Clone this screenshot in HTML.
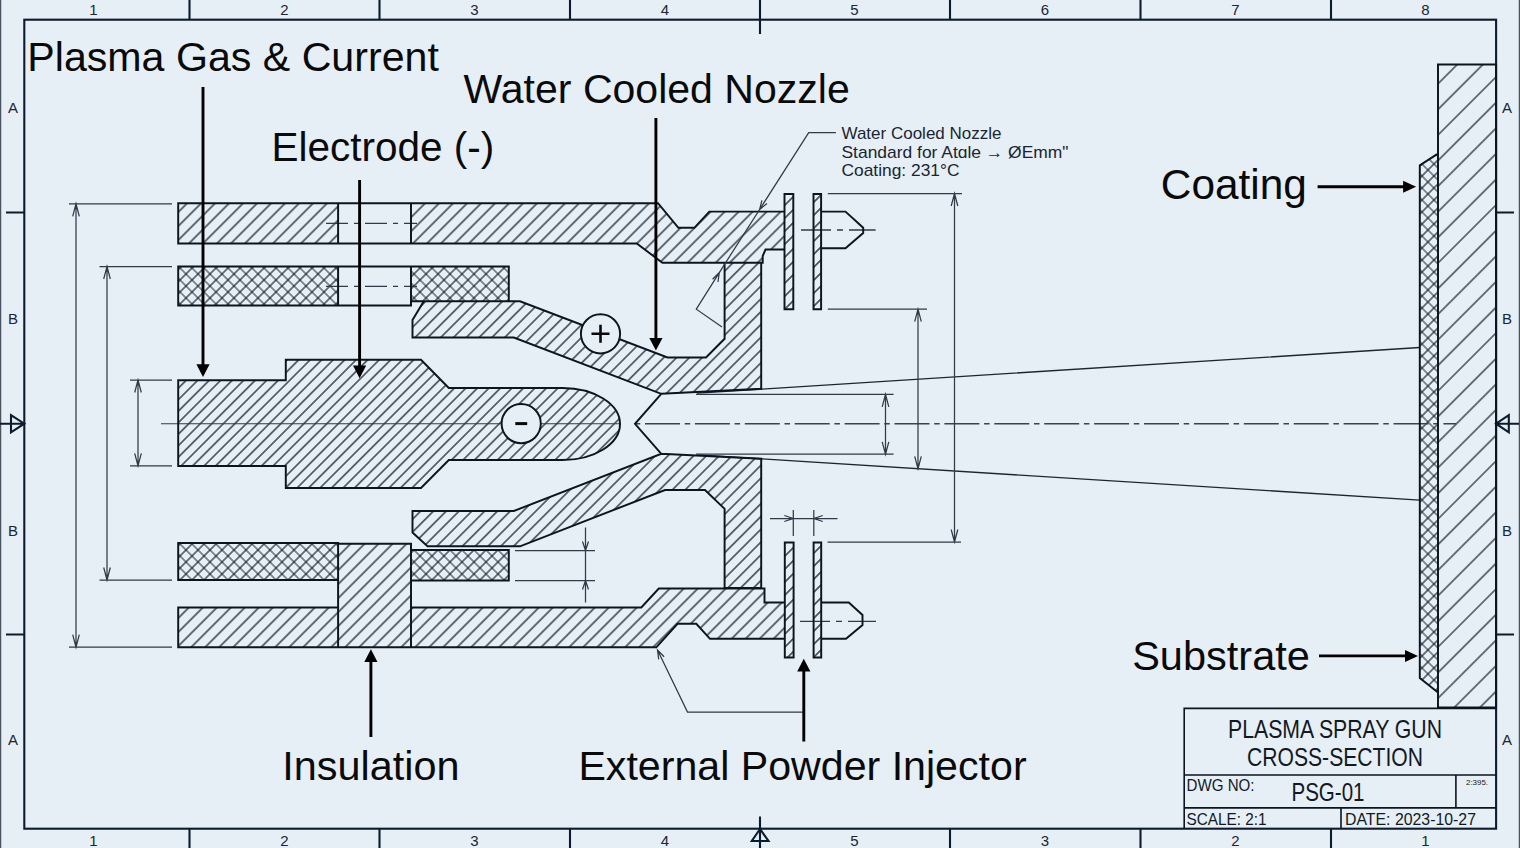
<!DOCTYPE html>
<html><head><meta charset="utf-8">
<style>
html,body{margin:0;padding:0;background:#e6eff6;overflow:hidden;}
svg{display:block;}
text{font-family:"Liberation Sans",sans-serif;}
</style></head>
<body>
<svg width="1520" height="848" viewBox="0 0 1520 848">
<defs><pattern id="h14" patternUnits="userSpaceOnUse" width="9.899" height="40" patternTransform="rotate(45) translate(8.768,0)"><path d="M0 -2V42M9.899 -2V42" stroke="#0d1620" stroke-width="1.2"/></pattern><pattern id="h14b" patternUnits="userSpaceOnUse" width="9.051" height="40" patternTransform="rotate(45) translate(7.212,0)"><path d="M0 -2V42M9.051 -2V42" stroke="#0d1620" stroke-width="1.2"/></pattern><pattern id="h115" patternUnits="userSpaceOnUse" width="8.132" height="40" patternTransform="rotate(45) translate(2.121,0)"><path d="M0 -2V42M8.132 -2V42" stroke="#0d1620" stroke-width="1.2"/></pattern><pattern id="h117" patternUnits="userSpaceOnUse" width="8.273" height="40" patternTransform="rotate(45) translate(3.536,0)"><path d="M0 -2V42M8.273 -2V42" stroke="#0d1620" stroke-width="1.2"/></pattern><pattern id="hf" patternUnits="userSpaceOnUse" width="9.192" height="40" patternTransform="rotate(45) translate(1.414,0)"><path d="M0 -2V42M9.192 -2V42" stroke="#0d1620" stroke-width="1.3"/></pattern><pattern id="x12" patternUnits="userSpaceOnUse" width="8.485" height="8.485" patternTransform="rotate(45) translate(2.828,2.828)"><path d="M0 -1V9.485M-1 0H9.485M8.485 -1V9.485M-1 8.485H9.485" stroke="#0d1620" stroke-width="1.15"/></pattern><pattern id="xc" patternUnits="userSpaceOnUse" width="8.485" height="8.485" patternTransform="rotate(45) translate(1.414,1.414)"><path d="M0 -1V9.485M-1 0H9.485M8.485 -1V9.485M-1 8.485H9.485" stroke="#0d1620" stroke-width="1.15"/></pattern><pattern id="h26" patternUnits="userSpaceOnUse" width="18.102" height="40" patternTransform="rotate(45) translate(8.061,0)"><path d="M0 -2V42M18.102 -2V42" stroke="#0d1620" stroke-width="1.15"/></pattern></defs>
<rect x="0" y="0" width="1520" height="848" fill="#e6eff6"/>
<g stroke="#4a5561" stroke-width="1.3"><line x1="0.6" y1="0" x2="0.6" y2="848"/><line x1="1519.4" y1="0" x2="1519.4" y2="848"/></g>
<g stroke="#0c1c2e" fill="none" stroke-width="2.1"><rect x="24.3" y="19.7" width="1471.8" height="809"/><path d="M189.5 0V19.7M379.5 0V19.7M570 0V19.7M760 0V34M950 0V19.7M1140.5 0V19.7M1331 0V19.7"/><path d="M189.5 828.7V848M379.5 828.7V848M570 828.7V848M760 816.5V848M950 828.7V848M1140.5 828.7V848M1331 828.7V848"/><path d="M6 212.5H24.3M6 634.5H24.3M1496 212.5H1514M1496 634.5H1514"/><path d="M0 423.7H24.3M11 415.2L24.3 423.7L11 432.3Z"/><path d="M1496 423.7H1519M1508.8 415.2L1496 423.7L1508.8 432.3Z"/><path d="M760 829L751.8 841L768.5 841Z"/></g>
<g font-size="15" fill="#1a2633" text-anchor="middle"><text x="93.5" y="14.5">1</text><text x="93.5" y="846">1</text><text x="284.5" y="14.5">2</text><text x="284.5" y="846">2</text><text x="474.5" y="14.5">3</text><text x="474.5" y="846">3</text><text x="665" y="14.5">4</text><text x="665" y="846">4</text><text x="854.5" y="14.5">5</text><text x="854.5" y="846">5</text><text x="1045" y="14.5">6</text><text x="1045" y="846">3</text><text x="1235.5" y="14.5">7</text><text x="1235.5" y="846">2</text><text x="1425.5" y="14.5">8</text><text x="1425.5" y="846">1</text><text x="13" y="112.5">A</text><text x="1507" y="112.5">A</text><text x="13" y="323.5">B</text><text x="1507" y="323.5">B</text><text x="13" y="535.5">B</text><text x="1507" y="535.5">B</text><text x="13" y="744.5">A</text><text x="1507" y="744.5">A</text></g>
<path d="M178.20 203.20L338.10 203.20L338.10 243.50L178.20 243.50Z" fill="url(#h14)"/>
<path d="M411.00 203.20L658.00 203.20L678.40 227.80L694.30 227.80L709.30 211.60L784.50 211.60L784.50 249.50L765.50 249.50L762.70 256.00L762.70 262.80L662.40 262.80L636.80 243.50L411.00 243.50Z" fill="url(#h14)"/>
<path d="M178.20 266.50L338.10 266.50L338.10 305.50L178.20 305.50Z" fill="url(#x12)"/>
<path d="M411.00 266.50L508.80 266.50L508.80 301.30L411.00 301.30Z" fill="url(#x12)"/>
<path d="M412.50 320.00L423.80 301.30L520.00 301.30L667.50 357.50L706.00 357.50L724.60 338.80L724.60 262.80L761.20 262.80L761.20 388.80L661.30 393.80L513.80 337.50L412.50 337.50Z" fill="url(#h14b)"/>
<path d="M724.6 262.8H761.2V388.8L724.6 390.6Z" fill="#e6eff6"/><path d="M724.6 262.8H761.2V388.8L724.6 390.6Z" fill="url(#h14b)"/>
<path d="M412.50 532.50L427.50 546.30L520.00 546.30L665.00 490.00L705.00 490.00L724.60 508.80L724.60 588.00L761.20 588.00L761.20 458.80L661.30 453.80L513.80 511.00L412.50 511.00Z" fill="url(#h14b)"/>
<path d="M724.6 457L761.2 458.8V588H724.6Z" fill="#e6eff6"/><path d="M724.6 457L761.2 458.8V588H724.6Z" fill="url(#h14b)"/>
<path d="M178.2 380.3H285.8V359.8H421L448.8 388H562.5A57.5 36 0 0 1 620 424A57.5 36 0 0 1 562.5 460H448.8L421 488H285.8V466H178.2Z" fill="url(#h115)"/>
<path d="M178.20 607.50L338.10 607.50L338.10 543.80L411.00 543.80L411.00 607.50L641.30 607.50L658.80 588.50L764.50 588.50L764.50 602.50L784.80 602.50L784.80 638.80L710.00 638.80L696.30 623.80L677.50 623.80L656.30 647.30L178.20 647.30Z" fill="url(#h14)"/>
<path d="M178.20 543.00L338.10 543.00L338.10 580.00L178.20 580.00Z" fill="url(#x12)"/>
<path d="M411.00 550.00L508.80 550.00L508.80 580.50L411.00 580.50Z" fill="url(#x12)"/>
<path d="M784.50 194.00L793.30 194.00L793.30 309.20L784.50 309.20Z" fill="url(#hf)"/>
<path d="M813.50 194.00L821.10 194.00L821.10 309.20L813.50 309.20Z" fill="url(#hf)"/>
<path d="M784.80 542.50L793.60 542.50L793.60 657.50L784.80 657.50Z" fill="url(#hf)"/>
<path d="M813.60 542.50L821.20 542.50L821.20 657.50L813.60 657.50Z" fill="url(#hf)"/>
<path d="M821.10 211.60L845.50 211.60L863.20 227.80L863.20 233.00L845.50 248.20L821.10 248.20Z" fill="#e6eff6"/>
<path d="M821.20 602.50L848.80 602.50L862.50 615.00L862.50 625.00L846.00 638.80L821.20 638.80Z" fill="#e6eff6"/>
<path d="M1438.00 64.50L1496.10 64.50L1496.10 707.50L1438.00 707.50Z" fill="url(#h26)"/>
<path d="M1419.80 165.40L1438.00 153.60L1438.00 692.40L1419.80 678.00Z" fill="url(#xc)"/>
<path d="M161 423.75H620" stroke="#2f3b47" stroke-width="1.1"/>
<path d="M635 423.75H1456" stroke="#3a434c" stroke-width="1.6" stroke-dasharray="35 4.7 5.5 4.7" stroke-dashoffset="-10"/>
<path d="M326 223.3H417M326 286.3H417" stroke="#2f3b47" stroke-width="1.2" stroke-dasharray="22 6 5 6"/>
<path d="M801 230H875.6M800 621.3H876" stroke="#2f3b47" stroke-width="1.3" stroke-dasharray="30 6 6 6"/>
<path d="M697 393.2L1419.8 347.5M697 454.8L1419.8 500.2" stroke="#1c2630" stroke-width="1.35"/>
<path d="M178.20 203.20L338.10 203.20L338.10 243.50L178.20 243.50ZM338.1 203.2H411M338.1 243.5H411M411.00 203.20L658.00 203.20L678.40 227.80L694.30 227.80L709.30 211.60L784.50 211.60L784.50 249.50L765.50 249.50L762.70 256.00L762.70 262.80L662.40 262.80L636.80 243.50L411.00 243.50ZM178.20 266.50L338.10 266.50L338.10 305.50L178.20 305.50ZM338.1 266.5H411M338.1 305.5H411V266.5M411.00 266.50L508.80 266.50L508.80 301.30L411.00 301.30ZM412.50 320.00L423.80 301.30L520.00 301.30L667.50 357.50L706.00 357.50L724.60 338.80L724.60 262.80L761.20 262.80L761.20 388.80L661.30 393.80L513.80 337.50L412.50 337.50ZM412.50 532.50L427.50 546.30L520.00 546.30L665.00 490.00L705.00 490.00L724.60 508.80L724.60 588.00L761.20 588.00L761.20 458.80L661.30 453.80L513.80 511.00L412.50 511.00ZM661.3 393.8L635 423.8L661.3 453.8M178.2 380.3H285.8V359.8H421L448.8 388H562.5A57.5 36 0 0 1 620 424A57.5 36 0 0 1 562.5 460H448.8L421 488H285.8V466H178.2ZM178.20 607.50L338.10 607.50L338.10 543.80L411.00 543.80L411.00 607.50L641.30 607.50L658.80 588.50L764.50 588.50L764.50 602.50L784.80 602.50L784.80 638.80L710.00 638.80L696.30 623.80L677.50 623.80L656.30 647.30L178.20 647.30ZM338.1 607.5V647.3M411 607.5V647.3M178.20 543.00L338.10 543.00L338.10 580.00L178.20 580.00ZM411.00 550.00L508.80 550.00L508.80 580.50L411.00 580.50ZM784.50 194.00L793.30 194.00L793.30 309.20L784.50 309.20ZM813.50 194.00L821.10 194.00L821.10 309.20L813.50 309.20ZM784.80 542.50L793.60 542.50L793.60 657.50L784.80 657.50ZM813.60 542.50L821.20 542.50L821.20 657.50L813.60 657.50ZM821.10 211.60L845.50 211.60L863.20 227.80L863.20 233.00L845.50 248.20L821.10 248.20ZM821.20 602.50L848.80 602.50L862.50 615.00L862.50 625.00L846.00 638.80L821.20 638.80ZM1438.00 64.50L1496.10 64.50L1496.10 707.50L1438.00 707.50ZM1419.80 165.40L1438.00 153.60L1438.00 692.40L1419.80 678.00Z" fill="none" stroke="#0c151f" stroke-width="1.95" stroke-linejoin="miter"/>
<circle cx="600.5" cy="333.8" r="19.6" fill="#e6eff6" stroke="#0c151f" stroke-width="1.95"/>
<path d="M591.5 333.8H609.5M600.5 324.8V342.8" stroke="#0a0a0a" stroke-width="2.6"/>
<circle cx="521.2" cy="423.6" r="19.6" fill="#e6eff6" stroke="#0c151f" stroke-width="1.95"/>
<path d="M515.3 423.6H527.2" stroke="#0a0a0a" stroke-width="3"/>
<g stroke="#0c151f" stroke-width="1.6" fill="none"><path d="M1184.2 828.2V708.4H1496.1M1184.2 775H1496.1M1184.2 807.9H1496.1M1455.9 775V807.9M1341 807.9V828.2"/></g>
<path d="M69 203.8H172M69 647.2H172M99.5 266.5H172M99.5 580H172M130 380H172M130 465.8H172M76 203.8V647.2M107 266.5V580M138 380V465.8M79.30 216.30L76.00 203.80L72.70 216.30M72.70 634.70L76.00 647.20L79.30 634.70M110.30 279.00L107.00 266.50L103.70 279.00M103.70 567.50L107.00 580.00L110.30 567.50M141.30 392.50L138.00 380.00L134.70 392.50M134.70 453.30L138.00 465.80L141.30 453.30M827.8 193.5H962M827.5 542H961M827.8 309.2H927M696 394.4H893.6M696 454.2H893.6M954.5 193.5V542M918 309.2V468.8M885.5 394.3V454.3M957.80 206.00L954.50 193.50L951.20 206.00M951.20 529.50L954.50 542.00L957.80 529.50M921.30 321.70L918.00 309.20L914.70 321.70M914.70 456.30L918.00 468.80L921.30 456.30M888.80 406.80L885.50 394.30L882.20 406.80M882.20 441.80L885.50 454.30L888.80 441.80M770 518.5H837.5M793.3 510V536M813.8 510V536M784.30 521.50L793.30 518.50L784.30 515.50M822.80 515.50L813.80 518.50L822.80 521.50M515 550.5H595M515 580.5H595M585.5 527.5V602.5M582.50 541.50L585.50 550.50L588.50 541.50M588.50 589.50L585.50 580.50L582.50 589.50" stroke="#2f3b47" stroke-width="1.25" fill="none"/>
<path d="M835.9 132.6H808.7L719.3 272.6L696.3 309.2L722 326.9M761.92 200.30L759.60 209.50L766.97 203.53M717.96 281.99L719.30 272.60L712.59 279.31M657.5 650L687.5 712H803.5M664.12 656.79L657.50 650.00L658.72 659.41" stroke="#2f3b47" stroke-width="1.25" fill="none"/>
<path d="M203 87V366M359.6 180V367M655.9 118V340M370.9 737V661M803.8 741.4V670M1317.6 186.7H1405M1319 655.9H1406" stroke="#000" stroke-width="2.9"/><path d="M203.00 377.00L196.40 364.30L209.60 364.30Z" fill="#000"/><path d="M359.60 378.30L353.00 365.60L366.20 365.60Z" fill="#000"/><path d="M655.90 350.60L649.30 337.90L662.50 337.90Z" fill="#000"/><path d="M370.90 649.20L377.50 661.90L364.30 661.90Z" fill="#000"/><path d="M803.80 658.80L810.40 671.50L797.20 671.50Z" fill="#000"/><path d="M1416.10 186.70L1403.10 192.70L1403.10 180.70Z" fill="#000"/><path d="M1418.00 655.90L1405.00 661.90L1405.00 649.90Z" fill="#000"/>
<g fill="#0a0a0a"><text x="27.3" y="70.5" font-size="41.15">Plasma Gas &amp; Current</text><text x="271.5" y="161.4" font-size="40.5">Electrode (-)</text><text x="463.6" y="103.1" font-size="41.04">Water Cooled Nozzle</text><text x="282.3" y="779.5" font-size="41.4">Insulation</text><text x="578.4" y="779.5" font-size="41.15">External Powder Injector</text><text x="1160.8" y="198.7" font-size="42.4">Coating</text><text x="1132.2" y="669.8" font-size="41.5">Substrate</text></g>
<g fill="#1a2530" font-size="17"><text x="841.5" y="138.8" textLength="160" lengthAdjust="spacingAndGlyphs">Water Cooled Nozzle</text><text x="841.5" y="157.5" textLength="227" lengthAdjust="spacingAndGlyphs">Standard for Atɑle → ØEmm"</text><text x="841.5" y="176.3" textLength="118" lengthAdjust="spacingAndGlyphs">Coating: 231°C</text></g>
<g fill="#12191f"><text x="1335" y="737.8" font-size="25" text-anchor="middle" textLength="214" lengthAdjust="spacingAndGlyphs">PLASMA SPRAY GUN</text><text x="1335" y="765.6" font-size="25" text-anchor="middle" textLength="176" lengthAdjust="spacingAndGlyphs">CROSS-SECTION</text><text x="1186.5" y="791" font-size="16.5" textLength="68" lengthAdjust="spacingAndGlyphs">DWG NO:</text><text x="1291.5" y="800.8" font-size="25" textLength="73" lengthAdjust="spacingAndGlyphs">PSG-01</text><text x="1466" y="785" font-size="8" textLength="22" lengthAdjust="spacingAndGlyphs">2:395.</text><text x="1186.5" y="825" font-size="17" textLength="80" lengthAdjust="spacingAndGlyphs">SCALE: 2:1</text><text x="1345" y="825" font-size="17" textLength="131" lengthAdjust="spacingAndGlyphs">DATE: 2023-10-27</text></g>
</svg>
</body></html>
